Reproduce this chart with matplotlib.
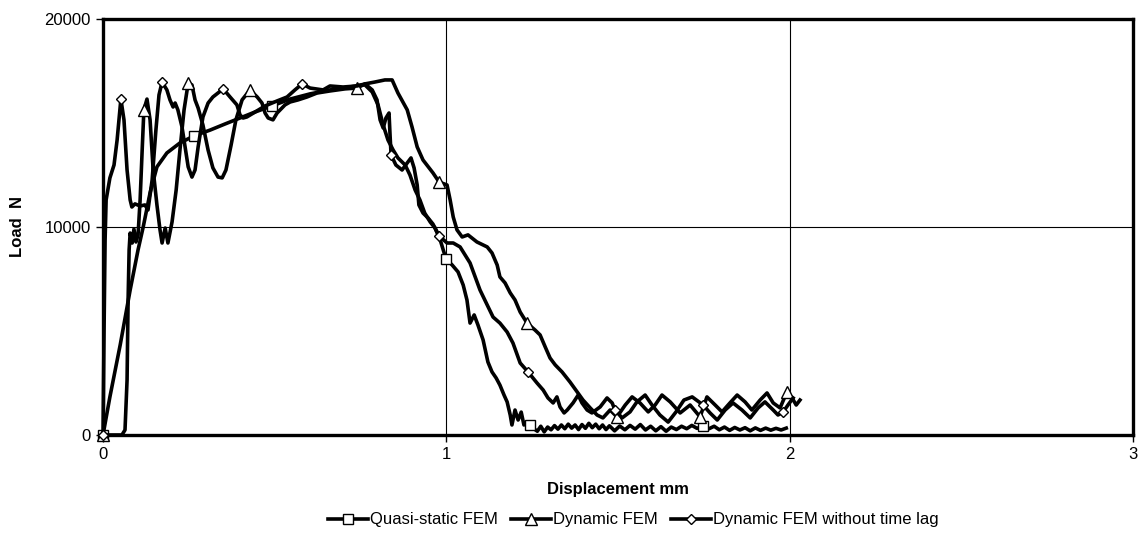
import numpy as np
import matplotlib
matplotlib.use("Agg")
import matplotlib.pyplot as plt

plt.rcParams['font.family'] = ['Liberation Sans', 'DejaVu Sans']

# Quasi-static FEM
qs_x = [0, 0.020, 0.050, 0.079, 0.102, 0.117, 0.137, 0.157, 0.186, 0.224, 0.265, 0.312, 0.355, 0.399,
        0.443, 0.492, 0.545, 0.603, 0.661, 0.719, 0.754, 0.763, 0.784, 0.801, 0.816, 0.830, 0.845, 0.859,
        0.880, 0.894, 0.909, 0.923, 0.937, 0.953, 0.967, 0.982, 0.999, 1.017, 1.034, 1.049, 1.060, 1.069,
        1.081, 1.092, 1.107, 1.121, 1.133, 1.145, 1.156, 1.168, 1.177, 1.186, 1.191, 1.200, 1.209, 1.218,
        1.226, 1.238, 1.244, 1.255, 1.265, 1.275, 1.285, 1.295, 1.305, 1.315, 1.325, 1.335, 1.345, 1.355,
        1.365, 1.375, 1.385, 1.395, 1.405, 1.415, 1.425, 1.435, 1.445, 1.455, 1.465, 1.475, 1.490, 1.505,
        1.520, 1.535, 1.550, 1.565, 1.580, 1.595, 1.610, 1.625, 1.640, 1.655, 1.670, 1.685, 1.700, 1.715,
        1.730, 1.748, 1.765, 1.780, 1.795, 1.810, 1.825, 1.840, 1.855, 1.870, 1.885, 1.900, 1.915, 1.930,
        1.945, 1.960, 1.975, 1.990]
qs_y = [0, 1830, 4330, 6970, 8900, 10000, 11640, 12890, 13560, 14040, 14380, 14660, 14950, 15240,
        15530, 15820, 16150, 16400, 16590, 16730, 16830, 16830, 16490, 15870, 14900, 14180, 13700, 13320,
        12980, 12500, 11780, 11300, 10670, 10240, 9950, 9380, 8460, 8170, 7840, 7210, 6490, 5380,
        5770, 5290, 4570, 3510, 3030, 2740, 2400, 1920, 1590, 960, 480, 1200, 720, 1100,
        480, 620, 480, 300, 180, 420, 150, 380, 250, 450, 280, 480, 300, 520,
        330, 480, 260, 500, 320, 560, 350, 520, 300, 480, 260, 440, 200, 430,
        250, 460, 280, 500, 240, 420, 200, 400, 180, 380, 260, 420, 300, 460,
        320, 420, 300, 420, 250, 380, 220, 360, 240, 350, 200, 340, 220, 330,
        230, 320, 240, 330]
qs_marks = [0, 0.265, 0.492, 0.999, 1.244, 1.748]

# Dynamic FEM
dy_x = [0, 0.035, 0.055, 0.064, 0.070, 0.073, 0.076, 0.079, 0.085, 0.090, 0.096, 0.102, 0.108, 0.114,
        0.119, 0.128, 0.137, 0.146, 0.157, 0.166, 0.172, 0.181, 0.189, 0.201, 0.213, 0.224, 0.236, 0.248,
        0.259, 0.268, 0.277, 0.291, 0.306, 0.320, 0.335, 0.347, 0.358, 0.373, 0.387, 0.405, 0.428, 0.449,
        0.463, 0.472, 0.481, 0.495, 0.507, 0.530, 0.545, 0.568, 0.594, 0.623, 0.661, 0.705, 0.740, 0.763,
        0.792, 0.821, 0.842, 0.859, 0.886, 0.900, 0.915, 0.932, 0.961, 0.979, 1.002, 1.011, 1.020, 1.031,
        1.046, 1.063, 1.089, 1.119, 1.133, 1.148, 1.156, 1.171, 1.186, 1.200, 1.215, 1.235, 1.258, 1.273,
        1.288, 1.302, 1.317, 1.337, 1.360, 1.381, 1.398, 1.419, 1.439, 1.456, 1.477, 1.497, 1.521, 1.541,
        1.564, 1.588, 1.608, 1.628, 1.652, 1.681, 1.710, 1.739, 1.759, 1.783, 1.803, 1.826, 1.847, 1.870,
        1.890, 1.914, 1.934, 1.952, 1.972, 1.992, 2.007, 2.019, 2.030]
dy_y = [0, 0, 0, 240, 2640, 6490, 8900, 9710, 9230, 9900, 9280, 9620, 11300, 13700,
        15630, 16150, 15150, 12740, 11060, 9860, 9230, 9950, 9230, 10240, 11780, 13700, 15630, 16920,
        16830, 16110, 15720, 14900, 13700, 12840, 12400, 12360, 12740, 13940, 15150, 16110, 16590, 16250,
        15960, 15480, 15240, 15150, 15480, 15870, 16010, 16110, 16250, 16440, 16540, 16640, 16680, 16880,
        16970, 17070, 17070, 16440, 15630, 14810, 13850, 13220, 12600, 12160, 12020, 11300, 10480, 9860,
        9520, 9620, 9280, 9040, 8750, 8170, 7600, 7310, 6830, 6490, 5910, 5380, 5050, 4810,
        4230, 3700, 3370, 3030, 2550, 2070, 1680, 1300, 960, 820, 1200, 870, 1440, 1830,
        1540, 1110, 1440, 1920, 1590, 1060, 1440, 870, 1830, 1440, 1110, 1540, 1920, 1590,
        1200, 1680, 2020, 1540, 1300, 2070, 1780, 1440, 1680]
dy_marks = [0, 0.119, 0.248, 0.428, 0.740, 0.979, 1.235, 1.497, 1.739, 1.992]

# Dynamic FEM without time lag
dn_x = [0, 0.003, 0.006, 0.009, 0.020, 0.032, 0.041, 0.052, 0.061, 0.070, 0.079, 0.084, 0.093, 0.108,
        0.122, 0.131, 0.143, 0.154, 0.163, 0.172, 0.186, 0.195, 0.204, 0.210, 0.218, 0.230, 0.239, 0.248,
        0.259, 0.268, 0.277, 0.291, 0.306, 0.320, 0.350, 0.370, 0.390, 0.399, 0.408, 0.419, 0.443, 0.472,
        0.507, 0.536, 0.559, 0.580, 0.603, 0.641, 0.661, 0.699, 0.740, 0.763, 0.784, 0.798, 0.807, 0.816,
        0.824, 0.833, 0.836, 0.839, 0.853, 0.871, 0.886, 0.897, 0.906, 0.915, 0.920, 0.932, 0.947, 0.961,
        0.979, 1.002, 1.020, 1.040, 1.069, 1.098, 1.119, 1.136, 1.156, 1.177, 1.194, 1.215, 1.238, 1.264,
        1.282, 1.296, 1.311, 1.322, 1.331, 1.343, 1.352, 1.369, 1.384, 1.395, 1.410, 1.424, 1.448, 1.468,
        1.483, 1.491, 1.512, 1.535, 1.555, 1.579, 1.599, 1.622, 1.646, 1.669, 1.692, 1.716, 1.748, 1.768,
        1.789, 1.812, 1.835, 1.861, 1.885, 1.908, 1.928, 1.952, 1.966, 1.981, 1.995, 2.010]
dn_y = [0, 5050, 9380, 11300, 12360, 12980, 14180, 16150, 15150, 12740, 11300, 10960, 11110, 11010,
        11060, 10820, 12260, 14660, 16350, 16970, 16590, 16110, 15770, 15960, 15630, 14810, 13850, 12890,
        12400, 12740, 13850, 15290, 15960, 16250, 16640, 16250, 15870, 15390, 15240, 15290, 15530, 15820,
        16060, 16250, 16590, 16880, 16680, 16590, 16780, 16730, 16780, 16880, 16590, 16110, 15150, 14760,
        15240, 15480, 14420, 13460, 12980, 12740, 13080, 13320, 12840, 12020, 11060, 10670, 10430, 10140,
        9570, 9230, 9230, 9040, 8270, 6970, 6250, 5670, 5380, 4950, 4420, 3460, 3030, 2500,
        2160, 1780, 1540, 1830, 1350, 1060, 1200, 1540, 1920, 1540, 1200, 1060, 1350, 1780,
        1540, 1200, 820, 1110, 1590, 1920, 1440, 960, 620, 1110, 1680, 1830, 1440, 1060,
        720, 1200, 1540, 1200, 820, 1300, 1590, 1200, 960, 1110, 1440, 1780]
dn_marks = [0, 0.052, 0.172, 0.350, 0.580, 0.839, 0.979, 1.238, 1.491, 1.748, 1.981]


def mark_idx(xs, marks):
    xs = np.asarray(xs)
    return [int(np.argmin(np.abs(xs - m))) for m in marks]


fig = plt.figure(figsize=(11.41, 5.49), dpi=100)
ax = fig.add_axes([0.0903, 0.2077, 0.9027, 0.7577])

style = dict(color='black', lw=2.6, mfc='white', mec='black', mew=1.0, clip_on=False, zorder=5)
ax.plot(qs_x, qs_y, marker='s', ms=7.5, markevery=mark_idx(qs_x, qs_marks),
        label='Quasi-static FEM', **style)
ax.plot(dy_x, dy_y, marker='^', ms=8, markevery=mark_idx(dy_x, dy_marks),
        label='Dynamic FEM', **style)
ax.plot(dn_x, dn_y, marker='D', ms=5.5, markevery=mark_idx(dn_x, dn_marks),
        label='Dynamic FEM without time lag', **style)

ax.set_xlim(0, 3)
ax.set_ylim(0, 20000)
ax.set_xticks([0, 1, 2, 3])
ax.set_yticks([0, 10000, 20000])
ax.grid(True, color='black', lw=0.8)
ax.set_axisbelow(True)
for s in ax.spines.values():
    s.set_linewidth(2.4)
ax.tick_params(direction='out', length=5, width=1, labelsize=12, pad=4)

ax.set_xlabel('Displacement mm', fontsize=12, fontweight='bold', labelpad=14)
ax.set_ylabel('Load  N', fontsize=12, fontweight='bold', labelpad=14)

fig.legend(loc='center', bbox_to_anchor=(0.555, 0.053), ncol=3, frameon=False,
           fontsize=12, handlelength=2.4, handletextpad=0.1, columnspacing=0.8)

fig.savefig('out.png', dpi=100)
